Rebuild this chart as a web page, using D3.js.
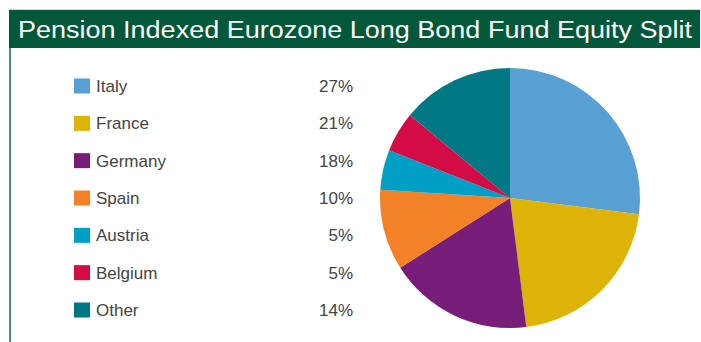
<!DOCTYPE html>
<html>
<head>
<meta charset="utf-8">
<script src="https://cdn.jsdelivr.net/npm/d3@7"></script>
<style>
  body { margin: 0; background: #fff; }
  svg { display: block; font-family: "Liberation Sans", Arial, sans-serif; }
</style>
</head>
<body>
<svg id="chart" width="701" height="342"></svg>
<script>
const title = 'Pension Indexed Eurozone Long Bond Fund Equity Split';
const countries = ['Italy', 'France', 'Germany', 'Spain', 'Austria', 'Belgium', 'Other'];
const shares = [27, 21, 18, 10, 5, 5, 14];
const colors = ['#58a0d3', '#ddb307', '#781e7a', '#f28127', '#00a0c6', '#d30c45', '#017883'];

const data = countries.map((c, i) => ({ name: c, value: shares[i] }));

const svg = d3.select('#chart');

// header bar
svg.append('line')
    .attr('x1', 9).attr('x2', 700).attr('y1', 9.5).attr('y2', 9.5)
    .attr('stroke', '#d6d6d6').attr('stroke-width', 1);
svg.append('rect')
    .attr('x', 9).attr('y', 10).attr('width', 691).attr('height', 38)
    .attr('fill', '#03573a');
svg.append('text')
    .attr('x', 18).attr('y', 37.5)
    .attr('fill', '#fff')
    .attr('font-size', 23)
    .attr('textLength', 674)
    .attr('lengthAdjust', 'spacingAndGlyphs')
    .text(title);

// left border
svg.append('line')
    .attr('x1', 10).attr('x2', 10).attr('y1', 48).attr('y2', 342)
    .attr('stroke', '#0b6b48').attr('stroke-width', 1.5);

// legend
const y = d3.scalePoint().domain(countries).range([86, 310]);
const legend = svg.append('g').selectAll('g')
    .data(data)
    .join('g')
    .attr('transform', d => `translate(0,${y(d.name)})`);

legend.append('rect')
    .attr('x', 74).attr('y', -7.5)
    .attr('width', 16).attr('height', 15)
    .attr('fill', (d, i) => colors[i]);

legend.append('text')
    .attr('x', 96).attr('y', 6)
    .attr('font-size', 17)
    .attr('fill', '#444')
    .text(d => d.name);

legend.append('text')
    .attr('x', 353).attr('y', 6)
    .attr('text-anchor', 'end')
    .attr('font-size', 17)
    .attr('fill', '#444')
    .text(d => d.value + '%');

// pie
const pie = d3.pie().sort(null).value(d => d.value);
const arc = d3.arc().innerRadius(0).outerRadius(130);

svg.append('g')
    .attr('transform', 'translate(510,198)')
    .selectAll('path')
    .data(pie(data))
    .join('path')
    .attr('d', arc)
    .attr('fill', (d, i) => colors[i]);
</script>
</body>
</html>
